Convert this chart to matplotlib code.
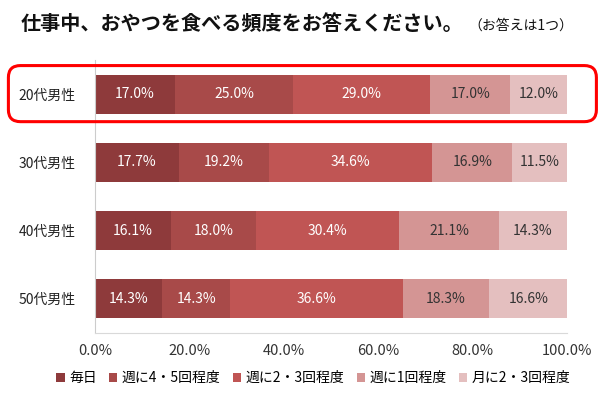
import matplotlib
matplotlib.use('Agg')
import matplotlib.pyplot as plt
from matplotlib.patches import FancyBboxPatch
import numpy

plt.rcParams['font.family'] = ['Noto Sans CJK JP', 'DejaVu Sans']

# データ
groups = ['20代男性', '30代男性', '40代男性', '50代男性']
series = ['毎日', '週に4・5回程度', '週に2・3回程度', '週に1回程度', '月に2・3回程度']
values = [
    [17.0, 17.7, 16.1, 14.3],
    [25.0, 19.2, 18.0, 14.3],
    [29.0, 34.6, 30.4, 36.6],
    [17.0, 16.9, 21.1, 18.3],
    [12.0, 11.5, 14.3, 16.6],
]
colors = ['#8e3a3b', '#a84a49', '#c05554', '#d49594', '#e4bfbf']
text_colors = ['white', 'white', 'white', '#333333', '#333333']
xticks = [0, 20, 40, 60, 80, 100]

fig = plt.figure(figsize=(6, 3.95), dpi=100)
ax = fig.add_axes([0.1583, 0.157, 0.7867, 0.691])

ypos = numpy.arange(len(groups))
left = numpy.zeros(len(groups))
for i, name in enumerate(series):
    vals = numpy.array(values[i])
    ax.barh(ypos, vals, left=left, height=0.57, color=colors[i], label=name)
    for y, l, v in zip(ypos, left, vals):
        ax.text(l + v / 2, y, '%.1f%%' % v, ha='center', va='center',
                fontsize=10, color=text_colors[i])
    left = left + vals

ax.set_xlim(0, 100)
ax.set_ylim(3.5, -0.5)
ax.set_xticks(xticks)
ax.set_xticklabels(['%.1f%%' % t for t in xticks], fontsize=10.5, color='#333333')
ax.set_yticks(ypos)
ax.set_yticklabels(groups, fontsize=10, color='#222222')
ax.tick_params(length=0, pad=8)
ax.tick_params(axis='y', pad=14)
for s in ['top', 'right']:
    ax.spines[s].set_visible(False)
ax.spines['left'].set_color('#cccccc')
ax.spines['bottom'].set_color('#d9d9d9')

# タイトル
fig.text(0.035, 0.94, '仕事中、おやつを食べる頻度をお答えください。', fontsize=14.5,
         fontweight='bold', color='#111111', va='center')
fig.text(0.78, 0.935, '（お答えは1つ）', fontsize=10,
         color='#111111', va='center')

# 赤枠
box = FancyBboxPatch((0.014, 0.692), 0.98, 0.142, boxstyle='round,pad=0,rounding_size=0.02',
                     transform=fig.transFigure, fill=False, edgecolor='#ff0000',
                     linewidth=2.2, mutation_aspect=1.5)
fig.patches.append(box)

ax.legend(loc='center', bbox_to_anchor=(0.522, 0.043), bbox_transform=fig.transFigure,
          ncol=5, frameon=False, fontsize=10, handlelength=0.6, handleheight=0.6,
          handletextpad=0.3, columnspacing=0.9)

plt.savefig('out.png', dpi=100)
